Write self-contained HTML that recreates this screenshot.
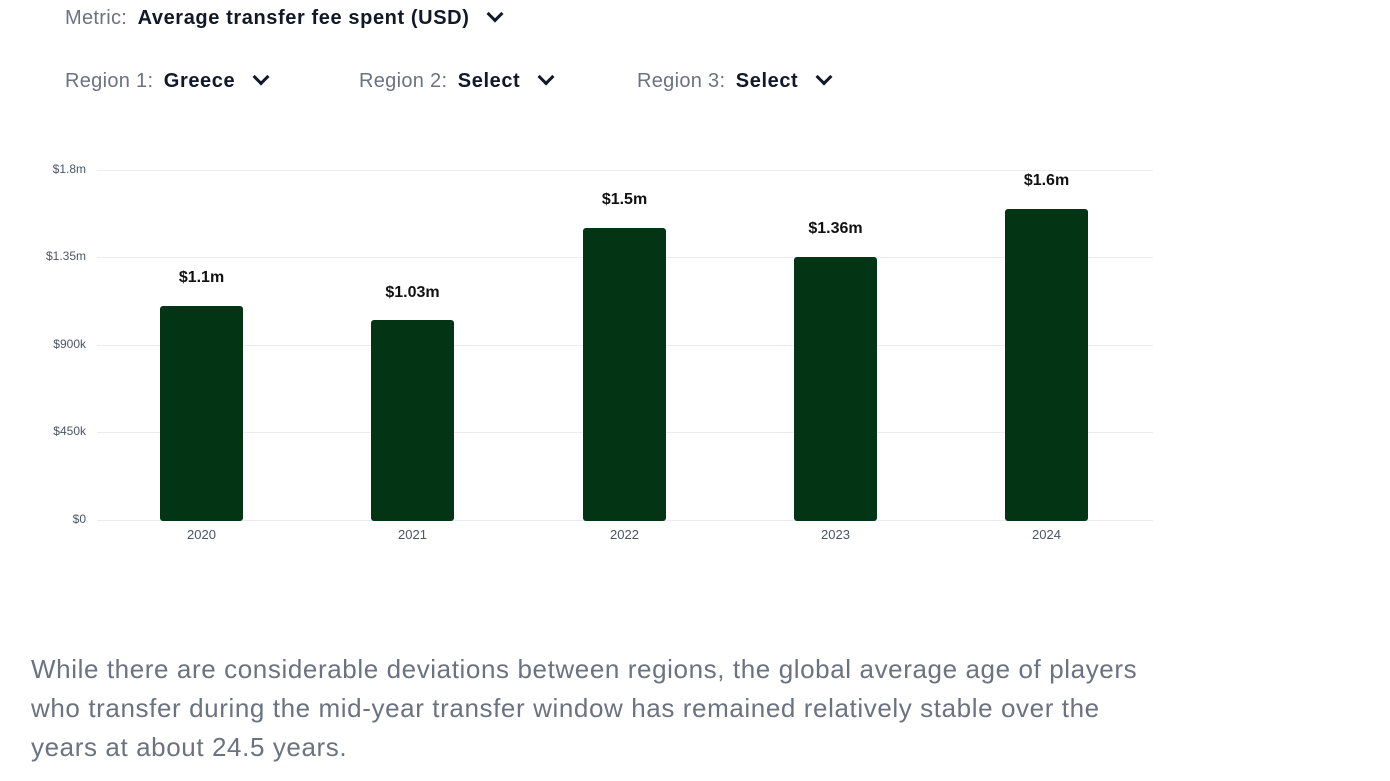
<!DOCTYPE html>
<html><head><meta charset="utf-8"><style>
body{margin:0;width:1390px;height:781px;background:#fff;position:relative;overflow:hidden;font-family:"Liberation Sans",sans-serif;}
.a{position:absolute;white-space:nowrap;}
.lab{color:#6b7280;font-size:20px;letter-spacing:0.3px;}
.val{color:#111827;font-size:20px;font-weight:bold;letter-spacing:0.6px;margin-left:6px;}
.chev{display:inline-block;width:9px;height:9px;border-right:3px solid #111827;border-bottom:3px solid #111827;transform:rotate(45deg);margin-left:20px;position:relative;top:-4px;}
.g{position:absolute;left:97px;width:1056px;height:1px;background:#ececef;}
.yt{position:absolute;right:1304px;font-size:12px;color:#4b5563;}
.bar{position:absolute;background:#033515;border-radius:3px;width:83px;}
.bl{position:absolute;width:83px;text-align:center;font-size:16px;font-weight:bold;color:#111;}
.xt{position:absolute;width:83px;text-align:center;font-size:13px;color:#4b5563;top:527px;}
p{position:absolute;left:31px;top:650px;margin:0;white-space:nowrap;font-size:26px;letter-spacing:0.6px;line-height:39px;color:#6b7280;}
</style></head><body>
<div class="a" style="left:65px;top:7px"><span class="lab">Metric:</span>&nbsp;<span class="val">Average transfer fee spent (USD)</span><span class="chev"></span></div>
<div class="a" style="left:65px;top:70px"><span class="lab">Region 1:</span>&nbsp;<span class="val">Greece</span><span class="chev"></span></div>
<div class="a" style="left:359px;top:70px"><span class="lab">Region 2:</span>&nbsp;<span class="val">Select</span><span class="chev"></span></div>
<div class="a" style="left:637px;top:70px"><span class="lab">Region 3:</span>&nbsp;<span class="val">Select</span><span class="chev"></span></div>

<div class="g" style="top:170px"></div><div class="g" style="top:257px"></div><div class="g" style="top:345px"></div><div class="g" style="top:432px"></div><div class="g" style="top:520px"></div>
<div class="yt" style="top:162px">$1.8m</div><div class="yt" style="top:249px">$1.35m</div><div class="yt" style="top:337px">$900k</div><div class="yt" style="top:424px">$450k</div><div class="yt" style="top:512px">$0</div>

<div class="bar" style="left:160px;top:306px;height:215px"></div><div class="bl" style="left:160px;top:269px">$1.1m</div><div class="xt" style="left:160px">2020</div>
<div class="bar" style="left:371px;top:320px;height:201px"></div><div class="bl" style="left:371px;top:284px">$1.03m</div><div class="xt" style="left:371px">2021</div>
<div class="bar" style="left:583px;top:228px;height:293px"></div><div class="bl" style="left:583px;top:191px">$1.5m</div><div class="xt" style="left:583px">2022</div>
<div class="bar" style="left:794px;top:257px;height:264px"></div><div class="bl" style="left:794px;top:220px">$1.36m</div><div class="xt" style="left:794px">2023</div>
<div class="bar" style="left:1005px;top:209px;height:312px"></div><div class="bl" style="left:1005px;top:172px">$1.6m</div><div class="xt" style="left:1005px">2024</div>

<p>While there are considerable deviations between regions, the global average age of players<br>who transfer during the mid-year transfer window has remained relatively stable over the<br>years at about 24.5 years.</p>
</body></html>
